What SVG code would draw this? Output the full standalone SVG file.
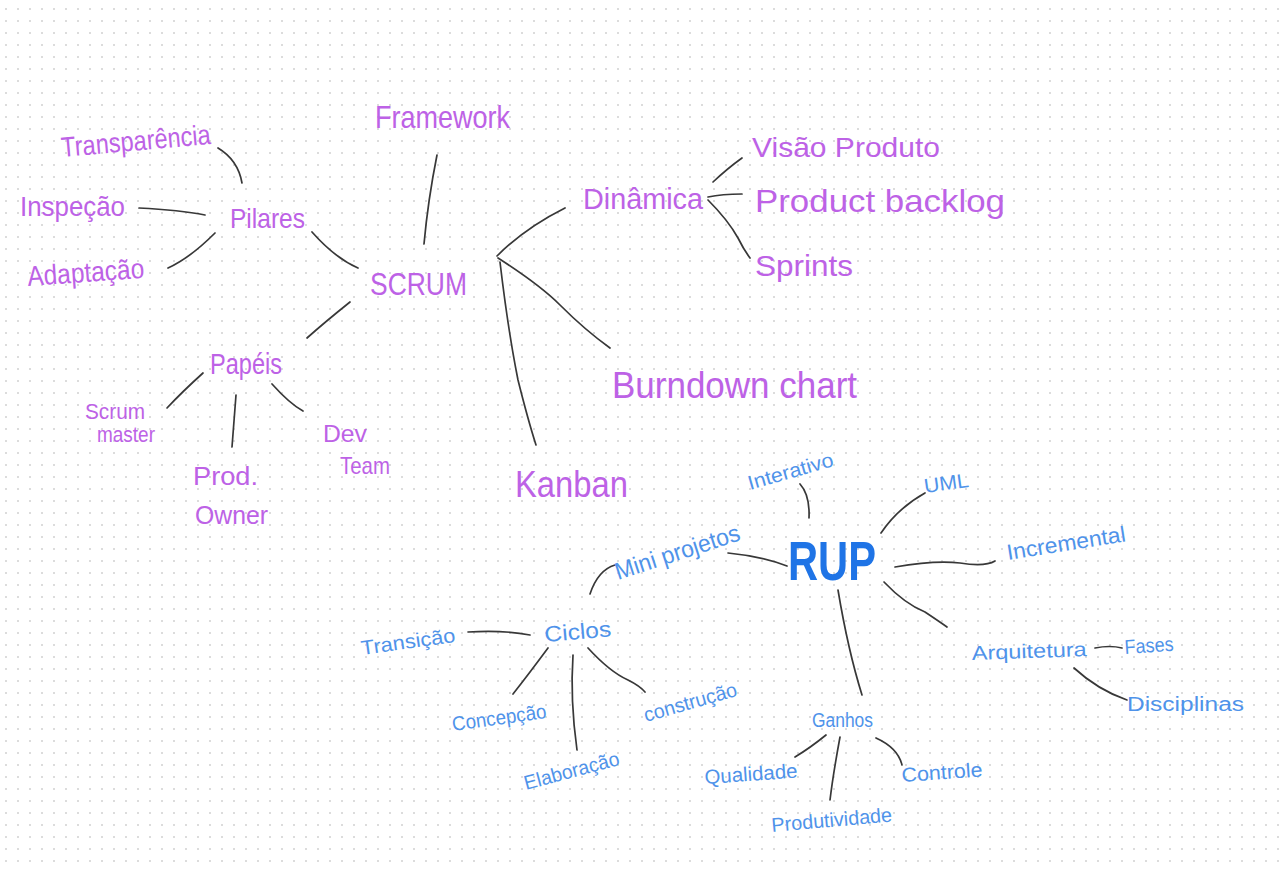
<svg xmlns="http://www.w3.org/2000/svg" width="1280" height="870" viewBox="0 0 1280 870">
<defs>
<pattern id="dots" x="0" y="0" width="12" height="12" patternUnits="userSpaceOnUse">
<circle cx="6" cy="9" r="1.1" fill="#d4d4d4"/>
</pattern>
<style>
text{font-family:"Liberation Sans","DejaVu Sans",sans-serif;}
.p{fill:#bd62e6;}
.b{fill:#4f93ea;}
.rup{fill:#1f74e6;font-weight:bold;}
.c path{fill:none;stroke:#383838;stroke-width:1.7;stroke-linecap:round;}
</style>
</defs>
<rect width="1280" height="870" fill="#ffffff"/>
<rect width="1280" height="870" fill="url(#dots)"/>

<g id="connectors" class="c">
<path d="M218,148 Q238,160 242,183"/>
<path d="M139,208 Q180,210 205,215"/>
<path d="M168,268 Q190,258 215,233"/>
<path d="M312,232 Q335,258 358,268"/>
<path d="M437,155 Q428,200 424,244"/>
<path d="M350,302 Q325,322 307,338"/>
<path d="M203,373 Q182,392 167,408"/>
<path d="M236,395 L232,447"/>
<path d="M272,384 Q290,404 303,411"/>
<path d="M497,256 Q525,228 565,208"/>
<path d="M498,258 Q540,285 560,305 Q585,330 610,348"/>
<path d="M500,262 Q508,330 518,380 Q528,420 536,445"/>
<path d="M713,182 Q728,168 742,158"/>
<path d="M708,197 Q722,194 742,194"/>
<path d="M708,200 Q728,220 738,238 Q744,250 750,258"/>
<path d="M800,484 Q810,495 809,518"/>
<path d="M881,533 Q898,508 925,493"/>
<path d="M895,567 Q935,560 960,563 Q985,567 995,561"/>
<path d="M787,566 Q760,556 728,553"/>
<path d="M884,582 Q905,604 925,612 Q940,622 947,627"/>
<path d="M838,590 Q848,650 862,695"/>
<path d="M615,565 Q598,570 590,594"/>
<path d="M530,635 Q505,630 468,632"/>
<path d="M548,648 Q528,675 513,694"/>
<path d="M573,655 Q570,700 577,750"/>
<path d="M588,648 Q610,672 628,680 Q640,686 645,692"/>
<path d="M826,735 Q810,748 795,757"/>
<path d="M840,737 Q833,775 830,800"/>
<path d="M876,738 Q898,748 902,765"/>
<path d="M1095,648 Q1110,645 1122,648"/>
<path d="M1074,668 Q1098,690 1127,700"/>
</g>

<g id="node-framework"><text class="p" x="375" y="128" font-size="32" textLength="135" lengthAdjust="spacingAndGlyphs">Framework</text></g>
<g id="node-transparencia"><text class="p" x="62" y="157" font-size="28" textLength="150" lengthAdjust="spacingAndGlyphs" transform="rotate(-5 62 157)">Transparência</text></g>
<g id="node-inspecao"><text class="p" x="20" y="216" font-size="28" textLength="105" lengthAdjust="spacingAndGlyphs">Inspeção</text></g>
<g id="node-adaptacao"><text class="p" x="28" y="286" font-size="28" textLength="117" lengthAdjust="spacingAndGlyphs" transform="rotate(-4 28 286)">Adaptação</text></g>
<g id="node-pilares"><text class="p" x="230" y="228" font-size="28" textLength="75" lengthAdjust="spacingAndGlyphs">Pilares</text></g>
<g id="node-scrum"><text class="p" x="370" y="295" font-size="32" textLength="97" lengthAdjust="spacingAndGlyphs">SCRUM</text></g>
<g id="node-dinamica"><text class="p" x="583" y="209" font-size="30" textLength="120" lengthAdjust="spacingAndGlyphs">Dinâmica</text></g>
<g id="node-visao"><text class="p" x="752" y="157" font-size="28" textLength="188" lengthAdjust="spacingAndGlyphs">Visão Produto</text></g>
<g id="node-backlog"><text class="p" x="755" y="212" font-size="32" textLength="250" lengthAdjust="spacingAndGlyphs">Product backlog</text></g>
<g id="node-sprints"><text class="p" x="755" y="276" font-size="30" textLength="98" lengthAdjust="spacingAndGlyphs">Sprints</text></g>
<g id="node-burndown"><text class="p" x="612" y="398" font-size="36" textLength="245" lengthAdjust="spacingAndGlyphs">Burndown chart</text></g>
<g id="node-kanban"><text class="p" x="515" y="497" font-size="36" textLength="113" lengthAdjust="spacingAndGlyphs">Kanban</text></g>
<g id="node-papeis"><text class="p" x="210" y="374" font-size="30" textLength="72" lengthAdjust="spacingAndGlyphs">Papéis</text></g>
<g id="node-scrummaster"><text class="p" x="85" y="419" font-size="22" textLength="60" lengthAdjust="spacingAndGlyphs">Scrum</text><text class="p" x="97" y="442" font-size="22" textLength="58" lengthAdjust="spacingAndGlyphs">master</text></g>
<g id="node-prodowner"><text class="p" x="193" y="485" font-size="26" textLength="65" lengthAdjust="spacingAndGlyphs">Prod.</text><text class="p" x="195" y="524" font-size="26" textLength="73" lengthAdjust="spacingAndGlyphs">Owner</text></g>
<g id="node-devteam"><text class="p" x="323" y="442" font-size="24" textLength="44" lengthAdjust="spacingAndGlyphs">Dev</text><text class="p" x="340" y="474" font-size="24" textLength="50" lengthAdjust="spacingAndGlyphs">Team</text></g>

<g id="node-rup"><text class="rup" x="788" y="580" font-size="56" textLength="88" lengthAdjust="spacingAndGlyphs">RUP</text></g>
<g id="node-interativo"><text class="b" x="750" y="490" font-size="20" textLength="88" lengthAdjust="spacingAndGlyphs" transform="rotate(-16 750 490)">Interativo</text></g>
<g id="node-uml"><text class="b" x="925" y="493" font-size="20" textLength="45" lengthAdjust="spacingAndGlyphs" transform="rotate(-8 925 493)">UML</text></g>
<g id="node-incremental"><text class="b" x="1008" y="560" font-size="22" textLength="120" lengthAdjust="spacingAndGlyphs" transform="rotate(-9 1008 560)">Incremental</text></g>
<g id="node-miniprojetos"><text class="b" x="618" y="580" font-size="24" textLength="130" lengthAdjust="spacingAndGlyphs" transform="rotate(-18 618 580)">Mini projetos</text></g>
<g id="node-ciclos"><text class="b" x="545" y="642" font-size="22" textLength="67" lengthAdjust="spacingAndGlyphs" transform="rotate(-5 545 642)">Ciclos</text></g>
<g id="node-transicao"><text class="b" x="362" y="655" font-size="20" textLength="95" lengthAdjust="spacingAndGlyphs" transform="rotate(-8 362 655)">Transição</text></g>
<g id="node-concepcao"><text class="b" x="453" y="731" font-size="20" textLength="95" lengthAdjust="spacingAndGlyphs" transform="rotate(-8 453 731)">Concepção</text></g>
<g id="node-elaboracao"><text class="b" x="526" y="790" font-size="20" textLength="98" lengthAdjust="spacingAndGlyphs" transform="rotate(-15 526 790)">Elaboração</text></g>
<g id="node-construcao"><text class="b" x="646" y="722" font-size="20" textLength="96" lengthAdjust="spacingAndGlyphs" transform="rotate(-16 646 722)">construção</text></g>
<g id="node-ganhos"><text class="b" x="812" y="727" font-size="20" textLength="61" lengthAdjust="spacingAndGlyphs">Ganhos</text></g>
<g id="node-qualidade"><text class="b" x="705" y="784" font-size="20" textLength="93" lengthAdjust="spacingAndGlyphs" transform="rotate(-4 705 784)">Qualidade</text></g>
<g id="node-produtividade"><text class="b" x="772" y="832" font-size="20" textLength="121" lengthAdjust="spacingAndGlyphs" transform="rotate(-5 772 832)">Produtividade</text></g>
<g id="node-controle"><text class="b" x="902" y="782" font-size="20" textLength="81" lengthAdjust="spacingAndGlyphs" transform="rotate(-4 902 782)">Controle</text></g>
<g id="node-arquitetura"><text class="b" x="972" y="660" font-size="20" textLength="115" lengthAdjust="spacingAndGlyphs" transform="rotate(-2 972 660)">Arquitetura</text></g>
<g id="node-fases"><text class="b" x="1125" y="654" font-size="20" textLength="49" lengthAdjust="spacingAndGlyphs" transform="rotate(-4 1125 654)">Fases</text></g>
<g id="node-disciplinas"><text class="b" x="1127" y="711" font-size="20" textLength="117" lengthAdjust="spacingAndGlyphs">Disciplinas</text></g>
</svg>
